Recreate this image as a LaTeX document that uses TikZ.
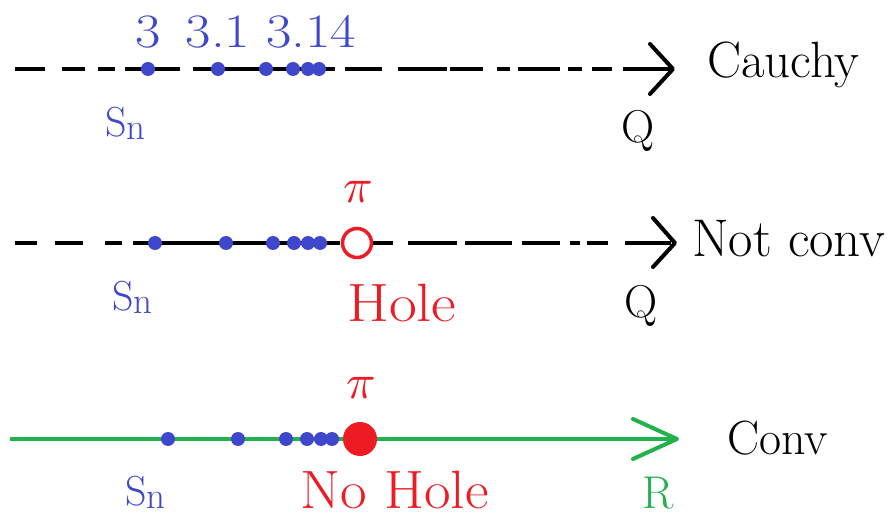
\documentclass[tikz,border=0pt]{standalone}
\usetikzlibrary{calc}
\definecolor{pblue}{HTML}{3F48CC}
\definecolor{pred}{HTML}{ED1C24}
\definecolor{pgreen}{HTML}{22B14C}
\begin{document}
\begin{tikzpicture}[x=1pt,y=-1pt,
  axis/.style={line width=4pt},
  chev/.style={line width=4pt,line cap=round,line join=round},
  dotb/.style={circle,fill=pblue,inner sep=0pt,minimum size=14pt},
  lbl/.style={inner sep=0pt,font=\fontsize{51}{60}\selectfont},
  rlbl/.style={inner sep=0pt,text=pred,anchor=base west,font=\fontsize{54}{60}\selectfont},
  qlbl/.style={inner sep=0pt,font=\fontsize{46}{56}\selectfont},
  num/.style={inner sep=0pt,text=pblue,font=\fontsize{48}{52}\selectfont},
  pil/.style={inner sep=0pt,text=pred},
  snl/.style={inner sep=0pt,text=pblue,anchor=base west}]
\useasboundingbox (0,0) rectangle (888,518);
\newcommand{\snlabel}{{\fontsize{42}{48}\selectfont S}{\fontsize{37}{40}\selectfont\raisebox{-3pt}{n}}}
\newcommand{\bigpi}{\scalebox{4.9}{$\pi$}}
% ---------- Row 1 ----------
\foreach \a/\b in {15/45,62/85,98/115,125/180,193/335,345/382,398/447,450/483,497/510,518/560,568/582,592/612,623/671}
  \draw[axis] (\a,69) -- (\b,69);
\coordinate (t1) at (673,69);
\draw[chev] ($(t1)+(-23,-25)$) -- (t1) -- ($(t1)+(-23,25)$);
\foreach \x [count=\i] in {148,218,266,293,308,319}
  \node[dotb] (a\i) at (\x,69) {};
\node[num,anchor=base] (n1) at (148,48) {\scalebox{1.15}[1]{3}};
\node[num,anchor=base] (n2) at (218,48) {\scalebox{1.15}[1]{3.1}};
\node[num,anchor=base] (n3) at (311,48) {\scalebox{1.15}[1]{3.14}};
\node[snl] (s1) at (105,137) {\snlabel};
\node[qlbl,anchor=base] (q1) at (638,143) {Q};
\node[lbl,anchor=base west] (c1) at (707,78) {Cauchy};
% ---------- Row 2 ----------
\foreach \a/\b in {15/37,55/83,105/122,133/340,373/393,408/457,465/512,522/560,570/580,587/608,625/671}
  \draw[axis] (\a,243) -- (\b,243);
\coordinate (t2) at (675,243);
\draw[chev] ($(t2)+(-22,-25)$) -- (t2) -- ($(t2)+(-22,24)$);
\foreach \x [count=\i] in {155,226,273,294,308,320}
  \node[dotb] (b\i) at (\x,243) {};
\node[circle,draw=pred,line width=3.5pt,fill=white,inner sep=0pt,minimum size=29pt] (hole) at (357,243) {};
\node[pil,anchor=base] (pi2) at (358,203) {\bigpi};
\node[rlbl] (h2) at (347,322) {\scalebox{1.12}[1]{Hole}};
\node[snl] (s2) at (112,310) {\snlabel};
\node[qlbl,anchor=base] (q2) at (641,317) {Q};
\node[lbl,anchor=base west,font=\fontsize{53}{60}\selectfont] (c2) at (692,257) {Not conv};
% ---------- Row 3 ----------
\coordinate (g0) at (10,439);
\coordinate (t3) at (677,439);
\draw[axis,draw=pgreen] (g0) -- (t3);
\draw[chev,draw=pgreen] ($(t3)+(-44,-20)$) -- (t3) -- ($(t3)+(-44,20)$);
\foreach \x [count=\i] in {168,238,286,307,321,332}
  \node[dotb] (c\i) at (\x,439) {};
\node[circle,fill=pred,inner sep=0pt,minimum size=34pt] (full) at (360,439) {};
\node[pil,anchor=base] (pi3) at (361,398) {\bigpi};
\node[rlbl] (h3) at (300,508) {\scalebox{1.07}[1]{No Hole}};
\node[snl] (s3) at (125,505) {\snlabel};
\node[inner sep=0pt,anchor=base,text=pgreen,font=\fontsize{46}{52}\selectfont] (r3) at (658,508) {R};
\node[lbl,anchor=base west,font=\fontsize{48}{56}\selectfont] (c3) at (727,454) {Conv};
\end{tikzpicture}
\end{document}
